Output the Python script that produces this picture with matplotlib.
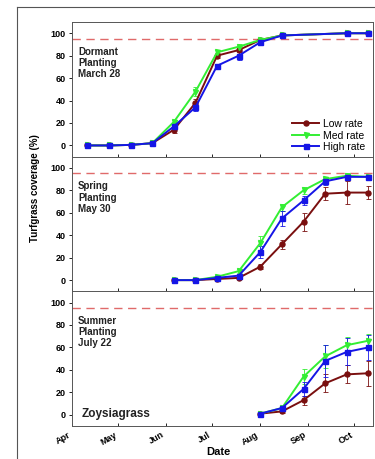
import numpy as np
import matplotlib
matplotlib.use("Agg")
import matplotlib.pyplot as plt
from matplotlib.lines import Line2D

plt.rcParams['font.family'] = ['Liberation Sans', 'DejaVu Sans']

# day of year for sampling dates
days_dormant = [101, 115, 129, 143, 157, 171, 185, 199, 213, 227, 269, 283]
days_spring = [157, 171, 185, 199, 213, 227, 241, 255, 269, 283]
days_summer = [213, 227, 241, 255, 269, 283]

# Dormant planting, March 28
dor_low = [0, 0, 0.5, 2, 14, 38, 80, 85, 94, 98, 100, 100]
dor_med = [0, 0, 0.5, 2, 21, 48, 83, 88, 94, 98, 100, 100]
dor_high = [0, 0, 0.5, 2, 17, 34, 71, 80, 92, 98, 100, 100]
dor_low_err = [0, 0, 0, 0, 3, 3, 2, 2, 1, 1, 0, 0]
dor_med_err = [0, 0, 0, 0, 2, 4, 2, 2, 1, 1, 0, 0]
dor_high_err = [0, 0, 0, 0, 2, 3, 2, 4, 1, 1, 0, 0]

# Spring planting, May 30
spr_low = [0, 0, 1, 2, 12, 32, 52, 77, 78, 78]
spr_med = [0, 0, 3, 8, 33, 65, 80, 90, 93, 92]
spr_high = [0, 0, 2, 4, 25, 55, 71, 88, 92, 92]
spr_low_err = [0, 0, 1, 1, 2, 4, 8, 6, 10, 6]
spr_med_err = [0, 0, 1, 2, 6, 3, 3, 2, 2, 2]
spr_high_err = [0, 0, 1, 1, 5, 7, 4, 3, 2, 2]

# Summer planting, July 22
sum_low = [1, 3, 13, 28, 36, 37]
sum_med = [1, 6, 34, 52, 62, 66]
sum_high = [1, 6, 23, 48, 56, 60]
sum_low_err = [0, 1, 4, 8, 8, 11]
sum_med_err = [0, 1, 7, 10, 7, 6]
sum_high_err = [0, 1, 6, 14, 12, 11]

month_ticks = [91, 121, 152, 182, 213, 244, 274]
month_labels = ['Apr', 'May', 'Jun', 'Jul', 'Aug', 'Sep', 'Oct']

panel_titles = ['Dormant\nPlanting\nMarch 28', 'Spring\nPlanting\nMay 30', 'Summer\nPlanting\nJuly 22']
series_names = ['Low rate', 'Med rate', 'High rate']

c_low = '#7a0f0f'
c_med = '#33ee33'
c_high = '#1515e6'
colors = [c_low, c_med, c_high]
markers = ['o', 'v', 's']

fig = plt.figure(figsize=(3.75, 4.59), dpi=100)

left, width = 72 / 375, 301 / 375
top, bottom = 1 - 22 / 459, 1 - 426 / 459
h = (top - bottom) / 3

panels = [
    (days_dormant, [dor_low, dor_med, dor_high], [dor_low_err, dor_med_err, dor_high_err]),
    (days_spring, [spr_low, spr_med, spr_high], [spr_low_err, spr_med_err, spr_high_err]),
    (days_summer, [sum_low, sum_med, sum_high], [sum_low_err, sum_med_err, sum_high_err]),
]

axes = []
for i, (d, vals, errs) in enumerate(panels):
    ax = fig.add_axes([left, top - (i + 1) * h, width, h])
    axes.append(ax)
    ax.axhline(95, color='#e06a6a', lw=1.0, ls=(0, (6, 4)), zorder=1)
    for v, e, c, m in zip(vals, errs, colors, markers):
        ax.errorbar(d, v, yerr=e, color=c, marker=m, lw=1.4, ms=3.6, capsize=1.8,
                    elinewidth=0.6, capthick=0.6)
    ax.set_xlim(91, 286)
    ax.set_ylim(-10, 110)
    ax.set_yticks([0, 20, 40, 60, 80, 100])
    ax.set_xticks(month_ticks)
    ax.tick_params(axis='y', direction='out', length=2.5, width=0.6, labelsize=6.5, pad=2)
    ax.tick_params(axis='x', direction='in', length=2.5, width=0.6)
    for lab in ax.get_yticklabels():
        lab.set_fontweight('bold')
    for s in ax.spines.values():
        s.set_linewidth(0.7)
        s.set_color('#555555')
    ax.text(95, 88, panel_titles[i], fontsize=7, fontweight='bold', va='top', ha='left',
            color='#222222', linespacing=1.15)
    if i < 2:
        ax.set_xticklabels([])
    else:
        ax.set_xticklabels(month_labels, rotation=30, ha='right', fontsize=6.5,
                           fontweight='bold')
        ax.tick_params(axis='x', pad=3)

handles = [Line2D([], [], color=c, marker=m, lw=1.4, ms=3.6) for c, m in zip(colors, markers)]
axes[0].legend(handles, series_names, loc='lower right', bbox_to_anchor=(1.0, -0.02),
               frameon=False, fontsize=7.5, handlelength=2.6, handletextpad=0.4,
               labelspacing=0.15, borderaxespad=0.3)
axes[2].text(97, 1, 'Zoysiagrass', fontsize=8.5, fontweight='bold', va='center', ha='left',
             color='#222222')

fig.text(35 / 375, 1 - 188 / 459, 'Turfgrass coverage (%)', rotation=90, fontsize=7,
         fontweight='bold', ha='center', va='center')
fig.text(218 / 375, 1 - 452 / 459, 'Date', fontsize=8, fontweight='bold', ha='center',
         va='center')

# outer frame (left and top edges)
fig.add_artist(Line2D([17 / 375, 17 / 375], [0, 1 - 7 / 459], color='#555555', lw=0.8,
                      transform=fig.transFigure))
fig.add_artist(Line2D([17 / 375, 1], [1 - 7 / 459, 1 - 7 / 459], color='#555555', lw=0.8,
                      transform=fig.transFigure))

fig.savefig('out.png', dpi=100)
